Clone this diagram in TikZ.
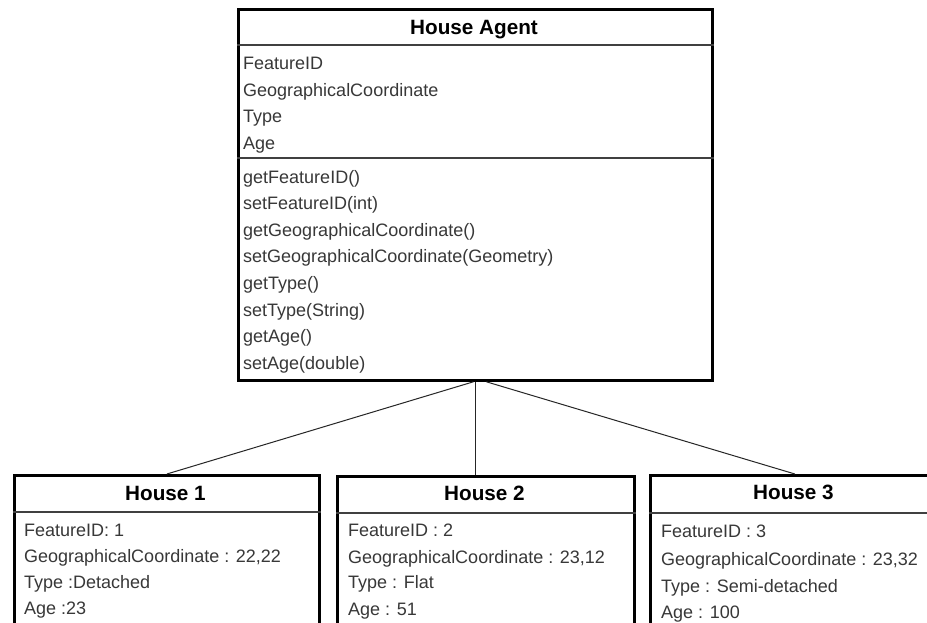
\documentclass[tikz,border=0pt]{standalone}
\usepackage{fontspec}
\setmainfont{Liberation Sans}
\begin{document}
\begin{tikzpicture}[x=1pt,y=1pt,
  box/.style={draw=black, line width=2.8pt, fill=white, anchor=north west, inner sep=0pt},
  sep/.style={draw=black!75, line width=1.2pt},
  link/.style={draw=black!85, line width=1pt},
  ttl/.style={font=\fontsize{20.7}{24}\selectfont\bfseries, text=black, inner sep=0pt, anchor=base},
  txt/.style={font=\fontsize{18}{22}\selectfont, text=black!78, inner sep=0pt, anchor=base west}]
\clip (0,0) rectangle (927,-623);
\fill[white] (0,0) rectangle (927,-623);

% House Agent
\node[box, minimum width=474pt, minimum height=371pt] (agent) at (237,-8) {};
\draw[sep] ([yshift=-37pt]agent.north west) -- ([yshift=-37pt]agent.north east);
\draw[sep] ([yshift=-150pt]agent.north west) -- ([yshift=-150pt]agent.north east);
\node[ttl] (agentT) at (474,-34.3) {House Agent};
\node[txt] (aa1) at (243,-70) {FeatureID};
\node[txt] (aa2) at (243,-96.5) {GeographicalCoordinate};
\node[txt] (aa3) at (243,-123) {Type};
\node[txt] (aa4) at (243,-149.5) {Age};
\node[txt] (am1) at (243,-183) {getFeatureID()};
\node[txt] (am2) at (243,-209.6) {setFeatureID(int)};
\node[txt] (am3) at (243,-236.2) {getGeographicalCoordinate()};
\node[txt] (am4) at (243,-262.8) {setGeographicalCoordinate(Geometry)};
\node[txt] (am5) at (243,-289.4) {getType()};
\node[txt] (am6) at (243,-316) {setType(String)};
\node[txt] (am7) at (243,-342.6) {getAge()};
\node[txt] (am8) at (243,-369.2) {setAge(double)};

% House 1
\node[box, minimum width=305pt, minimum height=170pt] (h1) at (13,-474) {};
\draw[sep] ([yshift=-38pt]h1.north west) -- ([yshift=-38pt]h1.north east);
\node[ttl] (h1T) at (165.5,-500) {House 1};
\node[txt] (h1a) at (24,-536) {FeatureID: 1};
\node[txt] (h1b) at (24,-562) {GeographicalCoordinate : 22,22};
\node[txt] (h1c) at (24,-588) {Type :Detached};
\node[txt] (h1d) at (24,-614) {Age :23};

% House 2
\node[box, minimum width=297pt, minimum height=170pt] (h2) at (336,-475) {};
\draw[sep] ([yshift=-38pt]h2.north west) -- ([yshift=-38pt]h2.north east);
\node[ttl] (h2T) at (484.5,-500) {House 2};
\node[txt] (h2a) at (348,-536) {FeatureID : 2};
\node[txt] (h2b) at (348,-563) {GeographicalCoordinate : 23,12};
\node[txt] (h2c) at (348,-588) {Type : Flat};
\node[txt] (h2d) at (348,-615) {Age : 51};

% House 3
\node[box, minimum width=289pt, minimum height=170pt] (h3) at (649,-474) {};
\draw[sep] ([yshift=-39pt]h3.north west) -- ([yshift=-39pt]h3.north east);
\node[ttl] (h3T) at (793.5,-499) {House 3};
\node[txt] (h3a) at (661,-537) {FeatureID : 3};
\node[txt] (h3b) at (661,-565) {GeographicalCoordinate : 23,32};
\node[txt] (h3c) at (661,-592) {Type : Semi-detached};
\node[txt] (h3d) at (661,-618) {Age : 100};

% connectors
\coordinate (aL) at ([xshift=-2pt]agent.south);
\coordinate (aR) at ([xshift=11pt]agent.south);
\draw[link] (aL) -- (h1.north);
\draw[link] (agent.south) -- (agent.south |- h2.north);
\draw[link] (aR) -- (h3.north);
\end{tikzpicture}
\end{document}
